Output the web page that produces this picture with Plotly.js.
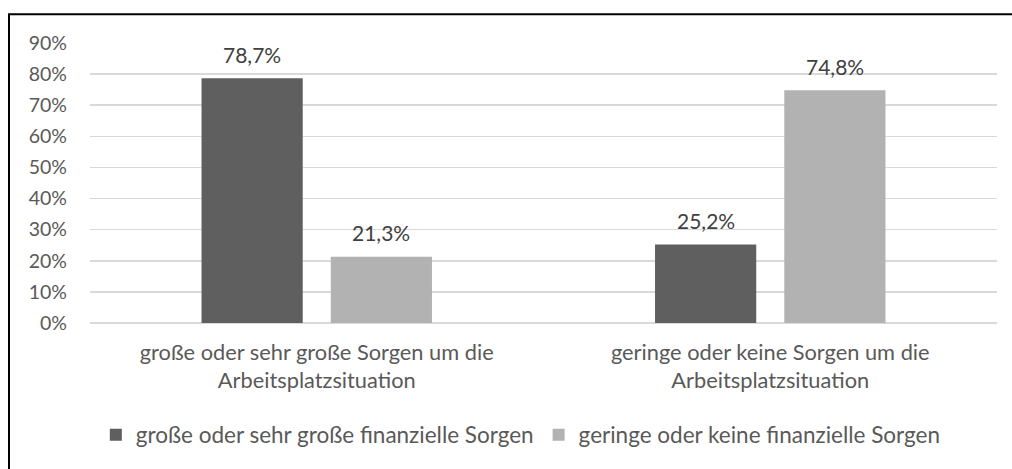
<!DOCTYPE html>
<html>
<head>
<meta charset="utf-8">
<script src="https://cdn.plot.ly/plotly-3.0.1.min.js"></script>
<style>html,body{margin:0;padding:0;background:#fff;}#chart{width:1012px;height:469px;}</style>
</head>
<body>
<div id="chart"></div>
<script>
const categories = [
  "große oder sehr große Sorgen um die<br>Arbeitsplatzsituation",
  "geringe oder keine Sorgen um die<br>Arbeitsplatzsituation"
];
const seriesNames = [
  "große oder sehr große finanzielle Sorgen",
  "geringe oder keine finanzielle Sorgen"
];
const seriesHigh = [78.7, 25.2];
const seriesLow = [21.3, 74.8];
const labelsHigh = ["78,7%", "25,2%"];
const labelsLow = ["21,3%", "74,8%"];
const yTickVals = [0, 10, 20, 30, 40, 50, 60, 70, 80, 90];
const yTickText = ["0%", "10%", "20%", "30%", "40%", "50%", "60%", "70%", "80%", "90%"];

const FONT = "Lato, 'Open Sans', sans-serif";
const txtColor = "#595959";
const colors = ["#5f5f5f", "#b2b2b2"];

const traces = [
  {type: "bar", name: seriesNames[0], x: categories, y: seriesHigh,
   marker: {color: colors[0], line: {width: 0}}},
  {type: "bar", name: seriesNames[1], x: categories, y: seriesLow,
   marker: {color: colors[1], line: {width: 0}}}
];

const BAR_OFFSET = 64.5;
const annotations = [];
[[seriesHigh, labelsHigh, -BAR_OFFSET], [seriesLow, labelsLow, BAR_OFFSET]].forEach(([vals, labs, dx]) => {
  vals.forEach((v, i) => {
    annotations.push({x: categories[i], y: v, xref: "x", yref: "y", text: labs[i],
      showarrow: false, xshift: dx, yshift: 24, yanchor: "middle",
      font: {family: FONT, size: 21, color: "#404040"}});
  });
});

const layout = {
  width: 1012, height: 469,
  margin: {l: 90, r: 15, t: 43, b: 144},
  paper_bgcolor: "#fff", plot_bgcolor: "#fff",
  font: {family: FONT, size: 19, color: txtColor},
  barmode: "group", bargap: 0.43, bargroupgap: 0.217,
  showlegend: true,
  legend: {orientation: "h", x: 0.475, xanchor: "center", y: -0.40, yanchor: "middle",
           font: {family: FONT, size: 22.5, color: txtColor}, itemwidth: 30, traceorder: "normal"},
  xaxis: {type: "category", showgrid: false, zeroline: false, showline: false, ticks: "",
          ticklabelstandoff: 14,
          tickfont: {family: FONT, size: 21.8, color: txtColor}, automargin: false},
  yaxis: {range: [0, 90], tickvals: yTickVals, ticktext: yTickText, showgrid: true,
          gridcolor: "#d9d9d9", gridwidth: 1.5, zeroline: true, zerolinecolor: "#d9d9d9", zerolinewidth: 1.5,
          showline: false, ticks: "", ticklabelstandoff: 22, automargin: false,
          tickfont: {family: FONT, size: 19.5, color: txtColor}},
  annotations: annotations,
  shapes: [{type: "rect", xref: "paper", yref: "paper",
            x0: (9 - 90) / 907, x1: 1.3, y0: -1, y1: (325 - 14) / 282,
            line: {color: "#000", width: 2}, fillcolor: "rgba(0,0,0,0)", layer: "above"}]
};

Plotly.newPlot("chart", traces, layout, {displayModeBar: false, staticPlot: true});
</script>
</body>
</html>
